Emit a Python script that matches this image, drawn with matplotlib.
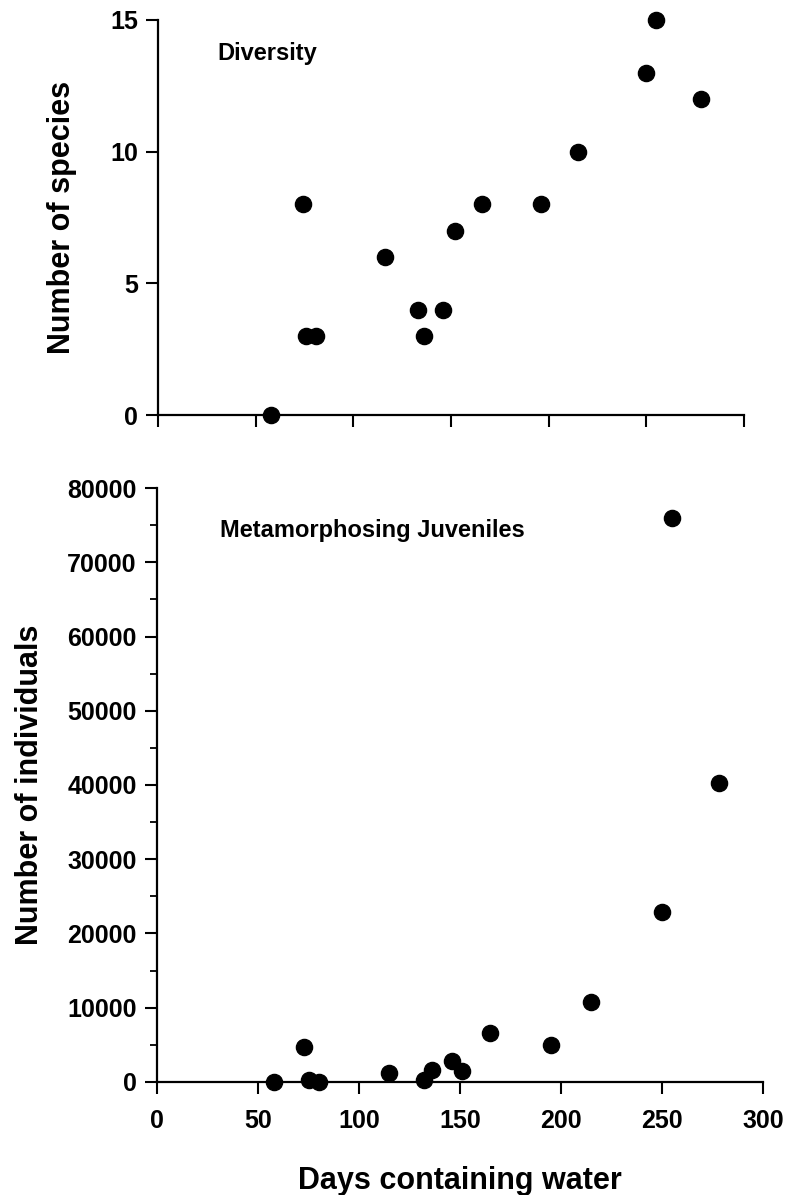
import matplotlib
matplotlib.use("Agg")
import matplotlib.pyplot as plt
from matplotlib.ticker import MultipleLocator

plt.rcParams["font.family"] = ["Liberation Sans", "DejaVu Sans"]
plt.rcParams["font.weight"] = "bold"

# top panel: species richness vs hydroperiod
div_days = [58, 74, 76, 81, 116, 133, 136, 146, 152, 166, 196, 215, 250, 255, 278]
div_species = [0, 8, 3, 3, 6, 4, 3, 4, 7, 8, 8, 10, 13, 15, 12]

# bottom panel: metamorphosing juveniles vs hydroperiod
juv_days = [58, 73, 75, 80, 115, 132, 136, 146, 151, 165, 195, 215, 250, 255, 278]
juv_counts = [0, 4700, 250, 0, 1250, 200, 1600, 2850, 1500, 6550, 5000, 10800,
              22850, 75900, 40300]

x_ticks = [0, 50, 100, 150, 200, 250, 300]

fig = plt.figure(figsize=(7.85, 11.95), dpi=100)
ax1 = fig.add_axes([0.2013, 0.6527, 0.7465, 0.3306])
ax2 = fig.add_axes([0.2000, 0.0946, 0.7720, 0.4970])


def style(ax):
    for side in ("top", "right"):
        ax.spines[side].set_visible(False)
    for side in ("left", "bottom"):
        ax.spines[side].set_linewidth(1.6)
    ax.tick_params(which="major", direction="out", length=8.5, width=1.5,
                   labelsize=18, pad=6)
    ax.tick_params(which="minor", direction="out", length=5, width=1.3)
    ax.set_xlim(0, 300)
    ax.set_xticks(x_ticks)


style(ax1)
ax1.scatter(div_days, div_species, s=135, color="black", zorder=5, clip_on=False)
ax1.set_ylim(0, 15)
ax1.set_yticks([0, 5, 10, 15])
ax1.tick_params(axis="x", labelbottom=False)
ax1.set_ylabel("Number of species", fontsize=22, fontweight="bold", labelpad=24)
ax1.text(0.102, 0.914, "Diversity", transform=ax1.transAxes, fontsize=17,
         fontweight="bold", va="center", ha="left")

style(ax2)
ax2.scatter(juv_days, juv_counts, s=135, color="black", zorder=5, clip_on=False)
ax2.set_ylim(0, 80000)
ax2.yaxis.set_major_locator(MultipleLocator(10000))
ax2.yaxis.set_minor_locator(MultipleLocator(5000))
ax2.tick_params(axis="x", pad=11)
ax2.set_ylabel("Number of individuals", fontsize=22, fontweight="bold", labelpad=16)
ax2.set_xlabel("Days containing water", fontsize=22, fontweight="bold", labelpad=24)
ax2.text(0.104, 0.929, "Metamorphosing Juveniles", transform=ax2.transAxes,
         fontsize=17, fontweight="bold", va="center", ha="left")

fig.savefig("out.png", dpi=100)
